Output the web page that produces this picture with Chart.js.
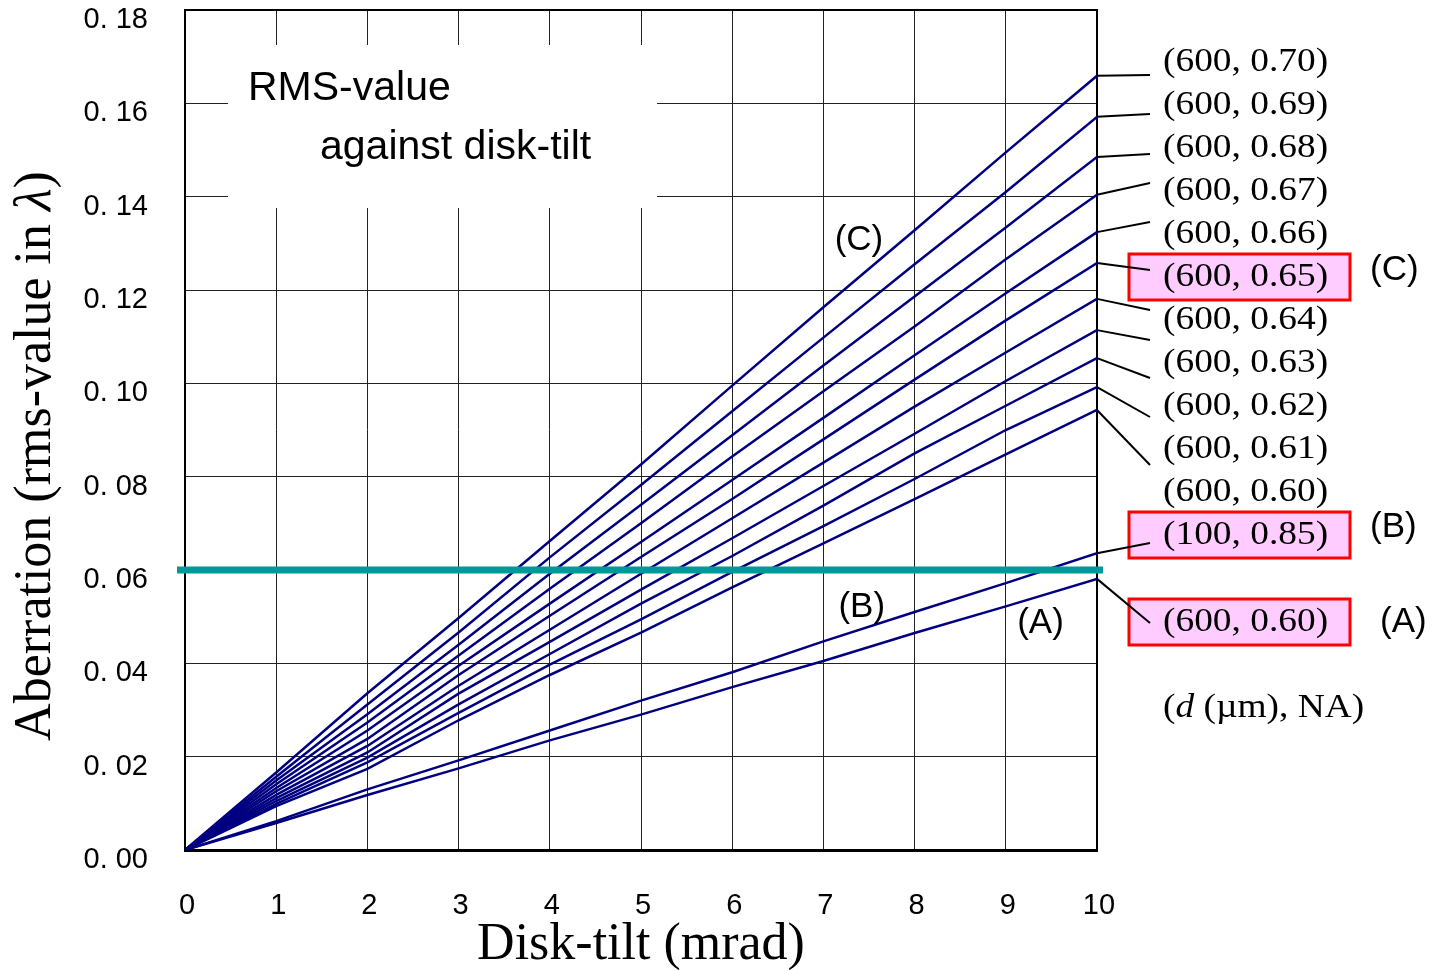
<!DOCTYPE html>
<html>
<head>
<meta charset="utf-8">
<title>RMS-value against disk-tilt</title>
<script src="https://cdn.jsdelivr.net/npm/chart.js@4/dist/chart.umd.min.js"></script>
<style>
  html, body { margin: 0; padding: 0; background: #fff; }
  #wrap { width: 1435px; height: 970px; position: relative; }
</style>
</head>
<body>
<div id="wrap"><canvas id="chart" width="1435" height="970"></canvas></div>
<script>
// Disk-tilt in mrad
const tiltMrad = [0, 1, 2, 3, 4, 5, 6, 7, 8, 9, 10];

// RMS wavefront aberration (in wavelengths) for (substrate thickness d in um, NA)
const rms_600_070 = [0, 0.0166, 0.0336, 0.0497, 0.0662, 0.0826, 0.0995, 0.1163, 0.1328, 0.1495, 0.1659];
const rms_600_069 = [0, 0.0157, 0.0312, 0.0466, 0.0627, 0.0782, 0.0940, 0.1098, 0.1255, 0.1410, 0.1571];
const rms_600_068 = [0, 0.0149, 0.0291, 0.0440, 0.0592, 0.0740, 0.0889, 0.1038, 0.1186, 0.1334, 0.1485];
const rms_600_067 = [0, 0.0141, 0.0273, 0.0417, 0.0560, 0.0700, 0.0843, 0.0983, 0.1122, 0.1266, 0.1404];
const rms_600_066 = [0, 0.0133, 0.0256, 0.0395, 0.0528, 0.0660, 0.0793, 0.0926, 0.1060, 0.1193, 0.1324];
const rms_600_065 = [0, 0.0126, 0.0238, 0.0375, 0.0502, 0.0628, 0.0752, 0.0880, 0.1008, 0.1135, 0.1258];
const rms_600_064 = [0, 0.0118, 0.0223, 0.0352, 0.0472, 0.0592, 0.0711, 0.0830, 0.0950, 0.1066, 0.1181];
const rms_600_063 = [0, 0.0111, 0.0209, 0.0335, 0.0446, 0.0558, 0.0668, 0.0780, 0.0892, 0.1005, 0.1114];
const rms_600_062 = [0, 0.0105, 0.0198, 0.0312, 0.0420, 0.0528, 0.0630, 0.0738, 0.0850, 0.0952, 0.1054];
const rms_600_061 = [0, 0.0099, 0.0188, 0.0294, 0.0397, 0.0494, 0.0596, 0.0694, 0.0795, 0.0900, 0.0992];
const rms_600_060 = [0, 0.0094, 0.0174, 0.0278, 0.0375, 0.0466, 0.0563, 0.0657, 0.0752, 0.0848, 0.0943];
const rms_100_085 = [0, 0.0062, 0.0130, 0.0192, 0.0256, 0.0320, 0.0381, 0.0447, 0.0510, 0.0572, 0.0636];
const rms_600_060A = [0, 0.0058, 0.0118, 0.0175, 0.0235, 0.0290, 0.0349, 0.0405, 0.0465, 0.0522, 0.0581];

// Series names as printed next to the curve ends
const seriesNames = [
  '(600, 0.70)', '(600, 0.69)', '(600, 0.68)', '(600, 0.67)', '(600, 0.66)', '(600, 0.65)',
  '(600, 0.64)', '(600, 0.63)', '(600, 0.62)', '(600, 0.61)', '(600, 0.60)',
  '(100, 0.85)', '(600, 0.60)'
];
const seriesValues = [
  rms_600_070, rms_600_069, rms_600_068, rms_600_067, rms_600_066, rms_600_065,
  rms_600_064, rms_600_063, rms_600_062, rms_600_061, rms_600_060,
  rms_100_085, rms_600_060A
];

// Tolerance limit (Marechal criterion)
const toleranceRms = 0.06;

// Axis ranges and tick steps
const xRange = [0, 10];
const xStep = 1;
const yRange = [0, 0.18];
const yStep = 0.02;

// ---------- styling / layout ----------
const SERIF = "'Liberation Serif', 'Times New Roman', Times, serif";
const SANS = "'Liberation Sans', Arial, Helvetica, sans-serif";
const NAVY = '#000080';

// label rows on the right: text centre y, leader end y, highlight box and tag
const labelLayout = [
  { y: 62,  leadY: 75,  box: false },
  { y: 105, leadY: 114, box: false },
  { y: 148, leadY: 154, box: false },
  { y: 191, leadY: 183, box: false },
  { y: 234, leadY: 222, box: false },
  { y: 277, leadY: 270, box: true, tag: '(C)', tagY: 270 },
  { y: 320, leadY: 310, box: false },
  { y: 363, leadY: 340, box: false },
  { y: 406, leadY: 378, box: false },
  { y: 449, leadY: 417, box: false },
  { y: 492, leadY: 465, box: false },
  { y: 535, leadY: 543, box: true, tag: '(B)', tagY: 527 },
  { y: 622, leadY: 623, box: true, tag: '(A)', tagY: 622, tagX: 1380 }
];

function drawScaledText(ctx, text, x, y, font, sx) {
  ctx.save();
  ctx.font = font;
  ctx.translate(x, y);
  ctx.scale(sx, 1);
  ctx.fillText(text, 0, 0);
  ctx.restore();
}

const decorPlugin = {
  id: 'decor',
  beforeDatasetsDraw(chart) {
    const { ctx, chartArea: a } = chart;
    ctx.save();
    // top and right frame
    ctx.strokeStyle = '#000';
    ctx.lineWidth = 2;
    ctx.beginPath();
    ctx.moveTo(a.left, a.top);
    ctx.lineTo(a.right, a.top);
    ctx.lineTo(a.right, a.bottom);
    ctx.stroke();
    // caption panel
    ctx.fillStyle = '#fff';
    ctx.fillRect(a.left + 43, a.top + 35, 429, 163);
    ctx.fillStyle = '#000';
    ctx.textBaseline = 'middle';
    ctx.textAlign = 'left';
    ctx.font = '41px ' + SANS;
    ctx.fillText('RMS-value', a.left + 63, a.top + 79);
    ctx.fillText('against disk-tilt', a.left + 135, a.top + 138);
    ctx.restore();
  },
  afterDatasetsDraw(chart) {
    const { ctx, chartArea: a, scales } = chart;
    const y = scales.y.getPixelForValue(toleranceRms);
    ctx.save();
    ctx.strokeStyle = '#009999';
    ctx.lineWidth = 7;
    ctx.beginPath();
    ctx.moveTo(a.left - 8, y);
    ctx.lineTo(a.right + 6, y);
    ctx.stroke();
    ctx.restore();
  },
  afterDraw(chart) {
    const { ctx, chartArea: a, scales } = chart;
    ctx.save();
    // highlight boxes
    labelLayout.forEach(l => {
      if (!l.box) return;
      ctx.fillStyle = '#ffccff';
      ctx.fillRect(1129, l.y - 23, 221, 46);
      ctx.strokeStyle = '#ff0000';
      ctx.lineWidth = 3;
      ctx.strokeRect(1129, l.y - 23, 221, 46);
    });
    // leader lines from curve ends to labels
    ctx.strokeStyle = '#000';
    ctx.lineWidth = 2;
    seriesValues.forEach((vals, i) => {
      const l = labelLayout[i];
      const yEnd = scales.y.getPixelForValue(vals[vals.length - 1]);
      ctx.beginPath();
      ctx.moveTo(a.right, yEnd);
      ctx.lineTo(a.right + 53, l.leadY);
      ctx.stroke();
    });
    // series labels
    ctx.fillStyle = '#000';
    ctx.textBaseline = 'middle';
    ctx.textAlign = 'left';
    seriesNames.forEach((name, i) => {
      const l = labelLayout[i];
      drawScaledText(ctx, name, 1163, l.y, '34px ' + SERIF, 1.1);
      if (l.tag) {
        ctx.font = '35px ' + SANS;
        ctx.fillText(l.tag, l.tagX || 1370, l.tagY);
      }
    });
    // key for the label pairs: (d (um), NA)
    {
      const y = 708;
      let x = 1163;
      const parts = [['(', 'normal'], ['d', 'italic'], [' (\u00b5m), NA)', 'normal']];
      parts.forEach(([t, st]) => {
        const f = (st === 'italic' ? 'italic ' : '') + '34px ' + SERIF;
        ctx.font = f;
        const w = ctx.measureText(t).width * 1.1;
        drawScaledText(ctx, t, x, y, f, 1.1);
        x += w;
      });
    }
    // curve tags inside the plot
    ctx.font = '35px ' + SANS;
    ctx.textAlign = 'center';
    ctx.fillText('(C)', scales.x.getPixelForValue(7.39), 240);
    ctx.fillText('(B)', scales.x.getPixelForValue(7.42), 607);
    ctx.fillText('(A)', scales.x.getPixelForValue(9.38), 623);

    // vertical axis title with italic lambda
    {
      const parts = [['Aberration (rms-value in ', 'normal'], ['\u03bb', 'italic'], [')', 'normal']];
      const fonts = parts.map(([, st]) => (st === 'italic' ? 'italic ' : '') + '52px ' + SERIF);
      let total = 0;
      const widths = parts.map(([t], i) => { ctx.font = fonts[i]; const w = ctx.measureText(t).width; total += w; return w; });
      ctx.translate(36, 456);
      ctx.rotate(-Math.PI / 2);
      ctx.textAlign = 'left';
      ctx.textBaseline = 'middle';
      let x = -total / 2;
      parts.forEach(([t], i) => {
        ctx.font = fonts[i];
        ctx.fillText(t, x, 0);
        x += widths[i];
      });
    }
    ctx.restore();
  }
};

const datasets = seriesValues.map((vals, i) => ({
  label: seriesNames[i],
  data: tiltMrad.map((x, j) => ({ x, y: vals[j] })),
  borderColor: NAVY,
  borderWidth: 2.5,
  pointRadius: 0,
  tension: 0,
  fill: false
}));

new Chart(document.getElementById('chart'), {
  type: 'line',
  data: { datasets },
  options: {
    responsive: false,
    animation: false,
    devicePixelRatio: 1,
    layout: { padding: { left: 0, top: 10, right: 338, bottom: 0 } },
    plugins: { legend: { display: false }, tooltip: { enabled: false } },
    scales: {
      x: {
        type: 'linear',
        min: xRange[0],
        max: xRange[1],
        ticks: { stepSize: xStep, color: '#000', font: { family: SANS, size: 29 }, padding: 39, labelOffset: 2, maxRotation: 0 },
        grid: { color: '#222', lineWidth: 1, drawTicks: false },
        border: { color: '#000', width: 3 },
        title: {
          display: true,
          text: 'Disk-tilt (mrad)',
          color: '#000',
          font: { family: SERIF, size: 52 },
          padding: { top: 0, bottom: -7 }
        },
        afterFit(scale) {
          scale.height = 120;
          scale.paddingLeft = 0;
          scale.paddingRight = 0;
        }
      },
      y: {
        type: 'linear',
        min: yRange[0],
        max: yRange[1],
        ticks: {
          stepSize: yStep,
          color: '#000',
          font: { family: SANS, size: 29 },
          padding: 37,
          labelOffset: 10,
          callback: v => v.toFixed(2).replace('.', '. ')
        },
        grid: { color: '#222', lineWidth: 1, drawTicks: false },
        border: { color: '#000', width: 2 },
        afterFit(scale) {
          scale.width = 185;
          scale.paddingTop = 0;
          scale.paddingBottom = 0;
        }
      }
    }
  },
  plugins: [decorPlugin]
});
</script>
</body>
</html>
